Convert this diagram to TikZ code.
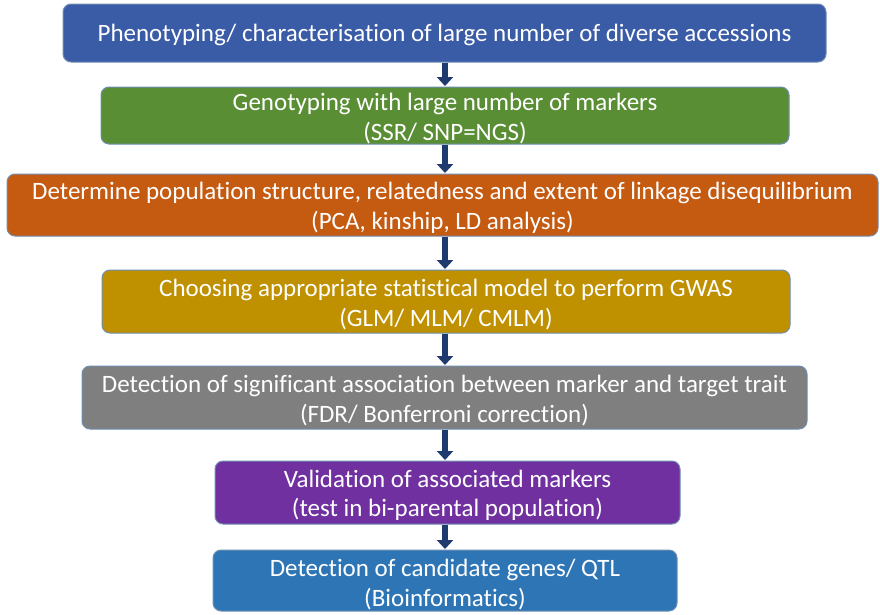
\documentclass[tikz,border=0pt]{standalone}
\usepackage{fontspec}
\setmainfont{Carlito}[Ligatures=NoCommon]
\usetikzlibrary{arrows.meta}
\definecolor{cPheno}{HTML}{3A5BA6}
\definecolor{cGeno}{HTML}{5A8E34}
\definecolor{cPop}{HTML}{C55A11}
\definecolor{cModel}{HTML}{BF9000}
\definecolor{cDetect}{HTML}{7F7F7F}
\definecolor{cValid}{HTML}{7030A0}
\definecolor{cCand}{HTML}{2E75B6}
\definecolor{cEdge}{HTML}{6F8FB2}
\definecolor{cArrow}{HTML}{1F3A6E}
\begin{document}
\begin{tikzpicture}[x=1pt,y=-1pt,
  stage/.style={draw=cEdge, line width=1pt, rounded corners=8pt, inner sep=0pt},
  caption/.style={text=white, align=center, inner sep=0pt, yshift=-3pt,
    font=\fontsize{25}{29.5}\selectfont},
  flow/.style={draw=cArrow, line width=6pt, -{Triangle[width=16pt,length=9pt]}, shorten >=0.5pt}]
\useasboundingbox (0,0) rectangle (880,614);
\coordinate (ax) at (445,0);
\node[stage, fill=cPheno, minimum width=763pt, minimum height=58pt,
  label={[caption, yshift=1pt]center:Phenotyping/ characterisation of large number of diverse accessions}] (s1) at (444.5,33) {};
\node[stage, fill=cGeno, minimum width=688pt, minimum height=57pt,
  label={[caption]center:{Genotyping with large number of markers\\(SSR/ SNP=NGS)}}] (s2) at (445,115.5) {};
\node[stage, fill=cPop, minimum width=871pt, minimum height=62pt,
  label={[caption]center:{Determine population structure, relatedness and extent of linkage disequilibrium\\(PCA, kinship, LD analysis)}}] (s3) at (442.5,205) {};
\node[stage, fill=cModel, minimum width=688pt, minimum height=63pt,
  label={[caption]center:{Choosing appropriate statistical model to perform GWAS\\(GLM/ MLM/ CMLM)}}] (s4) at (446,301.5) {};
\node[stage, fill=cDetect, minimum width=725pt, minimum height=63pt,
  label={[caption]center:{Detection of significant association between marker and target trait\\(FDR/ Bonferroni correction)}}] (s5) at (444.5,397.5) {};
\node[stage, fill=cValid, minimum width=465pt, minimum height=63pt,
  label={[caption]center:{Validation of associated markers\\(test in bi-parental population)}}] (s6) at (447.5,492.5) {};
\node[stage, fill=cCand, minimum width=464pt, minimum height=61pt,
  label={[caption, yshift=-1pt]center:{Detection of candidate genes/ QTL\\(Bioinformatics)}}] (s7) at (445,580.5) {};
\foreach \a/\b in {s1/s2, s2/s3, s3/s4, s4/s5, s5/s6, s6/s7}
  \draw[flow] (\a.south -| ax) -- (\b.north -| ax);
\end{tikzpicture}
\end{document}
